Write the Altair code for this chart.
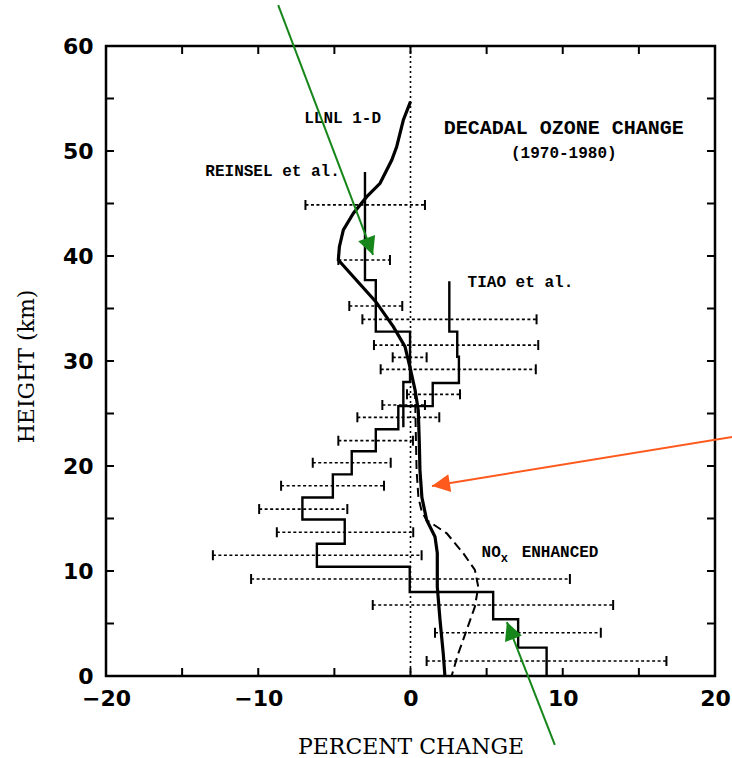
import math
import altair as alt
import pandas as pd

# ---------------- data ----------------
# TIAO et al. layer profile (layer tops in km, last layer ends at the ground)
tiao_tops = [37.6, 32.8, 30.4, 27.9, 25.7, 23.5, 21.4, 19.2, 17.0, 14.9, 12.6, 10.4, 8.0, 5.4, 2.7]
tiao_bottom = 0.0
tiao_vals = [2.55, 3.07, 3.18, 1.46, -0.8, -2.28, -3.86, -5.1, -7.1, -4.32, -6.15, -0.05, 5.43, 7.07, 8.94]

# REINSEL et al. layer profile
reinsel_tops = [48.0, 37.7, 32.8, 28.0]
reinsel_bottom = 23.7
reinsel_vals = [-2.99, -2.28, -0.03, -0.47]

# error bars (height, low, high)
reinsel_err_y = [44.86, 39.62, 35.24, 30.35, 25.81]
reinsel_err_lo = [-6.9, -4.74, -4.02, -1.17, -1.85]
reinsel_err_hi = [0.95, -1.35, -0.54, 1.06, 0.95]

tiao_err_y = [33.97, 31.52, 29.21, 26.83, 24.64, 22.41, 20.31, 18.12, 15.9, 13.69, 11.5, 9.24, 6.76, 4.12, 1.43]
tiao_err_lo = [-3.16, -2.4, -1.96, -0.23, -3.49, -4.74, -6.42, -8.5, -9.94, -8.78, -12.98, -10.47, -2.48, 1.61, 1.06]
tiao_err_hi = [8.28, 8.39, 8.23, 3.25, 1.89, 0.16, -1.3, -1.74, -4.15, 0.18, 0.73, 10.47, 13.31, 12.5, 16.81]

# LLNL 1-D model curve
llnl_x = [0.0, -0.47, -0.91, -1.23, -2.0, -2.87, -3.75, -4.41, -4.67, -4.74, -2.28, -1.13, -0.36,
          0.01, 0.3, 0.51, 0.58, 0.62, 0.75, 1.06, 1.61, 1.76, 1.76, 1.94, 2.15, 2.26]
llnl_y = [54.7, 52.95, 50.4, 49.14, 46.92, 45.65, 44.07, 42.48, 40.89, 39.62, 35.65, 33.27, 31.36,
          29.14, 27.24, 25.33, 22.16, 19.62, 17.0, 14.86, 13.27, 11.7, 8.5, 5.33, 2.16, 0.0]

# NOx enhanced model curve
nox_x = [0.3, 0.32, 0.36, 0.4, 0.52, 0.75, 1.06, 2.38, 3.46, 4.23, 4.45, 4.23, 3.69, 3.14, 2.7]
nox_y = [27.24, 25.3, 22.2, 19.6, 17.0, 15.6, 14.86, 13.59, 11.7, 10.1, 8.5, 6.6, 4.38, 2.16, 0.0]

zero_line = [0]

x_label_values = [-20, -10, 0, 10, 20]
y_label_values = [0, 10, 20, 30, 40, 50, 60]
x_tick_values = [-20, -15, -10, -5, 0, 5, 10, 15, 20]
y_tick_values = [0, 5, 10, 15, 20, 25, 30, 35, 40, 45, 50, 55, 60]

# annotations
center_texts = ["LLNL 1-D", "REINSEL et al.", "DECADAL OZONE CHANGE", "(1970-1980)", "TIAO et al."]
center_x = [-4.46, -9.06, 10.07, 10.07, 7.22]
center_y = [53.19, 48.1, 52.16, 49.81, 37.48]
center_fs = [16, 16, 20, 16, 16]

left_texts = ["NO", "x", "ENHANCED"]
left_x = [4.67, 5.92, 7.30]
left_y = [11.81, 11.2, 11.81]
left_fs = [16, 12, 16]

# overlaid arrows (start -> tip)
arrow_sx = [-8.69, 21.13, 9.48]
arrow_sy = [63.9, 22.76, -6.57]
arrow_tx = [-2.46, 1.41, 6.33]
arrow_ty = [40.1, 18.1, 5.14]
arrow_col = ["#16861a", "#ff5a1e", "#16861a"]

# ---------------- chart ----------------
W, H = 609, 630

xs = alt.Scale(domain=[-20, 20], nice=False, zero=False)
ys = alt.Scale(domain=[0, 60], nice=False, zero=False)

xaxis = alt.Axis(values=x_label_values, ticks=False, domain=False, grid=False,
                 labelFont="DejaVu Sans", labelFontWeight="bold", labelFontSize=22,
                 labelColor="black", labelPadding=12, format="d",
                 labelFlush=False, labelOverlap=False,
                 titleFont="DejaVu Serif", titleFontSize=22, titleFontWeight="normal",
                 titleColor="black", titleY=70, titleBaseline="middle")
yaxis = alt.Axis(values=y_label_values, ticks=False, domain=False, grid=False,
                 labelFont="DejaVu Sans", labelFontWeight="bold", labelFontSize=22,
                 labelColor="black", labelPadding=13, format="d",
                 labelFlush=False, labelOverlap=False,
                 titleFont="DejaVu Serif", titleFontSize=22, titleFontWeight="normal",
                 titleColor="black", titleX=-80, titleY=320, titleBaseline="middle",
                 titleAlign="center", titleAngle=270)


def X(f):
    return alt.X(f, type="quantitative", scale=xs, axis=xaxis, title="PERCENT CHANGE")


def Y(f):
    return alt.Y(f, type="quantitative", scale=ys, axis=yaxis, title="HEIGHT (km)")


def step_df(tops, bottom, vals, name):
    yv = list(tops) + [bottom]
    xv = list(vals) + [vals[-1]]
    return pd.DataFrame({"x": xv, "y": yv, "i": list(range(len(xv))), "s": name})


steps = pd.concat([step_df(tiao_tops, tiao_bottom, tiao_vals, "tiao"),
                   step_df(reinsel_tops, reinsel_bottom, reinsel_vals, "reinsel")])

err = pd.DataFrame({"y": reinsel_err_y + tiao_err_y,
                    "lo": reinsel_err_lo + tiao_err_lo,
                    "hi": reinsel_err_hi + tiao_err_hi})
caps = pd.DataFrame({"x": list(err["lo"]) + list(err["hi"]),
                     "y": list(err["y"]) + list(err["y"])})

llnl = pd.DataFrame({"x": llnl_x, "y": llnl_y, "i": list(range(len(llnl_x)))})
nox = pd.DataFrame({"x": nox_x, "y": nox_y, "i": list(range(len(nox_x)))})

kx, ky = W / 40.0, H / 60.0
angles = []
for sx, sy, tx, ty in zip(arrow_sx, arrow_sy, arrow_tx, arrow_ty):
    dxp = (tx - sx) * kx
    dyp = -(ty - sy) * ky
    angles.append(math.degrees(math.atan2(dxp, -dyp)) % 360)
arrows = pd.DataFrame({"sx": arrow_sx, "sy": arrow_sy, "tx": arrow_tx, "ty": arrow_ty,
                       "c": arrow_col, "ang": angles})

ctext = pd.DataFrame({"t": center_texts, "x": center_x, "y": center_y, "fs": center_fs})
ltext = pd.DataFrame({"t": left_texts, "x": left_x, "y": left_y, "fs": left_fs})

xt = pd.DataFrame({"t": x_tick_values})
yt = pd.DataFrame({"t": y_tick_values})

zero = alt.Chart(pd.DataFrame({"x": zero_line})).mark_rule(
    color="black", strokeWidth=1.6, strokeDash=[2, 3]).encode(x=X("x"))

tick_b = alt.Chart(xt).mark_rule(color="black", strokeWidth=2).encode(
    x=X("t"), y=alt.value(H), y2=alt.value(H - 8))
tick_t = alt.Chart(xt).mark_rule(color="black", strokeWidth=2).encode(
    x=X("t"), y=alt.value(0), y2=alt.value(8))
tick_l = alt.Chart(yt).mark_rule(color="black", strokeWidth=2).encode(
    y=Y("t"), x=alt.value(0), x2=alt.value(8))
tick_r = alt.Chart(yt).mark_rule(color="black", strokeWidth=2).encode(
    y=Y("t"), x=alt.value(W), x2=alt.value(W - 8))

errbars = alt.Chart(err).mark_rule(color="black", strokeWidth=1.7, strokeDash=[3, 2.5]).encode(
    x=X("lo"), x2="hi", y=Y("y"))
errcaps = alt.Chart(caps).mark_tick(color="black", orient="vertical", size=10, thickness=2,
                                    opacity=1).encode(x=X("x"), y=Y("y"))

step_lines = alt.Chart(steps).mark_line(color="black", strokeWidth=2.4,
                                        interpolate="step-before").encode(
    x=X("x"), y=Y("y"), order="i:Q", detail="s:N")

llnl_line = alt.Chart(llnl).mark_line(color="black", strokeWidth=3.2).encode(
    x=X("x"), y=Y("y"), order="i:Q")
nox_line = alt.Chart(nox).mark_line(color="black", strokeWidth=2, strokeDash=[9, 5]).encode(
    x=X("x"), y=Y("y"), order="i:Q")

ctext_l = alt.Chart(ctext).mark_text(font="Liberation Mono", fontWeight="bold", align="center",
                                      baseline="middle", color="black").encode(
    x=X("x"), y=Y("y"), text="t:N", size=alt.Size("fs:Q", scale=None))
ltext_l = alt.Chart(ltext).mark_text(font="Liberation Mono", fontWeight="bold", align="left",
                                      baseline="middle", color="black").encode(
    x=X("x"), y=Y("y"), text="t:N", size=alt.Size("fs:Q", scale=None))

arrow_lines = alt.Chart(arrows).mark_rule(strokeWidth=2).encode(
    x=X("sx"), y=Y("sy"), x2="tx", y2="ty", color=alt.Color("c:N", scale=None))
arrow_heads = alt.Chart(arrows).mark_point(shape="M0,0L-0.5,1L0.5,1Z", filled=True, size=1300,
                                           opacity=1, strokeWidth=0).encode(
    x=X("tx"), y=Y("ty"), angle=alt.Angle("ang:Q", scale=None),
    color=alt.Color("c:N", scale=None))

chart = alt.layer(
    zero, tick_b, tick_t, tick_l, tick_r, errbars, errcaps, step_lines, nox_line, llnl_line,
    ctext_l, ltext_l, arrow_lines, arrow_heads
).properties(
    width=W, height=H,
    autosize=alt.AutoSizeParams(type="none"),
    padding={"left": 106, "top": 46, "right": 17, "bottom": 82},
    background="white",
).configure_view(stroke="black", strokeWidth=2.5)

chart.save("out.html", embed_options={"renderer": "svg", "actions": False})
